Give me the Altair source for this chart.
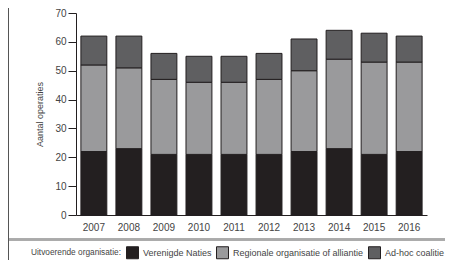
import altair as alt
import pandas as pd

years = ["2007", "2008", "2009", "2010", "2011", "2012", "2013", "2014", "2015", "2016"]
vn = [22, 23, 21, 21, 21, 21, 22, 23, 21, 22]
regionaal = [30, 28, 26, 25, 25, 26, 28, 31, 32, 31]
adhoc = [10, 11, 9, 9, 9, 9, 11, 10, 10, 9]
series = ["Verenigde Naties", "Regionale organisatie of alliantie", "Ad-hoc coalitie"]
colors = ["#231f20", "#9a9a9c", "#5f5f61"]

rows = []
for i, y in enumerate(years):
    for k, (s, v) in enumerate(zip(series, [vn[i], regionaal[i], adhoc[i]])):
        rows.append({"jaar": y, "organisatie": s, "aantal": v, "volgorde": k})
df = pd.DataFrame(rows)

font = "Liberation Sans"

bars = alt.Chart(df).mark_bar(stroke="#231f20", strokeWidth=1).encode(
    x=alt.X("jaar:N", sort=years, title=None,
            scale=alt.Scale(paddingInner=0.26, paddingOuter=0.14),
            axis=alt.Axis(labelAngle=0, ticks=False, labelPadding=7, labelFontSize=10,
                          labelColor="#444444", domainColor="#231f20", labelFont=font)),
    y=alt.Y("aantal:Q", stack="zero", title="Aantal operaties",
            scale=alt.Scale(domain=[0, 70]),
            axis=alt.Axis(values=[0, 10, 20, 30, 40, 50, 60, 70], grid=False, tickSize=8,
                          labelPadding=2, labelFontSize=10, labelColor="#444444",
                          tickColor="#231f20", domainColor="#231f20", titleFontSize=9,
                          titleFontWeight="normal", titleColor="#444444", titlePadding=10,
                          labelFont=font, titleFont=font)),
    color=alt.Color("organisatie:N", sort=series,
                    scale=alt.Scale(domain=series, range=colors),
                    legend=alt.Legend(orient="none", direction="horizontal", legendX=-45, legendY=233,
                                      title="Uitvoerende organisatie:", titleOrient="left",
                                      titleFontSize=8.3, titleFontWeight="normal", titleColor="#444444",
                                      titlePadding=5, labelFontSize=9, labelColor="#444444",
                                      labelOffset=4, columnPadding=2, symbolType="square",
                                      symbolSize=144, symbolStrokeColor="#231f20", symbolStrokeWidth=1,
                                      symbolOpacity=1, labelFont=font, titleFont=font,
                                      titleBaseline="middle")),
    order=alt.Order("volgorde:Q"),
)

sep = alt.Chart(df).mark_rule(color="#aaaaaa", strokeWidth=1.5).encode(
    x=alt.value(-68), x2=alt.value(369), y=alt.value(226.5)
)
left_border = alt.Chart(df).mark_rule(color="#555555", strokeWidth=1).encode(
    x=alt.value(-67.5), y=alt.value(-5), y2=alt.value(247)
)

chart = alt.layer(bars, sep, left_border).properties(
    width=351, height=202,
    padding={"left": 68, "top": 5, "right": 18, "bottom": 45},
    autosize=alt.AutoSizeParams(type="none"),
).configure_view(stroke=None)

chart.save("out.html", embed_options={"renderer": "svg", "actions": False})
